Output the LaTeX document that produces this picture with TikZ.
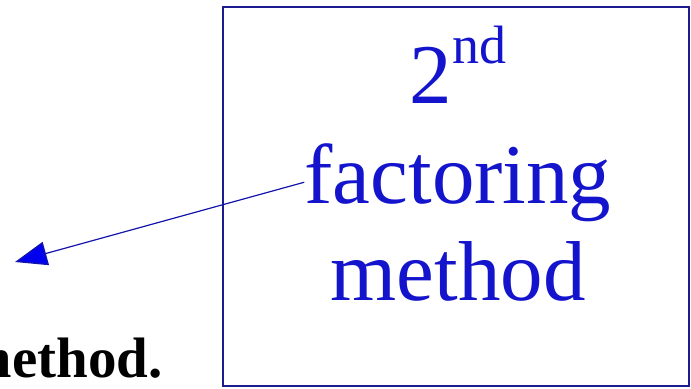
\documentclass[tikz,border=0pt]{standalone}
\usepackage{fontspec}
\setmainfont{Liberation Serif}
\usepackage{xcolor}
\usetikzlibrary{positioning,arrows.meta,calc}
\definecolor{boxcol}{HTML}{1C1C8E}
\definecolor{txtcol}{HTML}{1414CC}
\definecolor{arrcol}{HTML}{0000EE}

\begin{document}
\begin{tikzpicture}[
   x=0.5pt, y=-0.5pt,
   frame/.style={draw=boxcol,line width=1.2pt,minimum width=233pt,
                 minimum height=189.5pt,inner sep=0pt},
   big/.style={text=txtcol,inner sep=0pt,font=\fontsize{42.5}{49}\selectfont},
   note/.style={text=black,inner sep=0pt,font=\fontsize{28.5}{33}\selectfont\bfseries},
   pointer/.style={draw=boxcol!70!arrcol,line width=0.6pt,
                   -{Triangle[length=16pt,width=12pt,fill=arrcol]}},
]
\useasboundingbox (0,0) rectangle (691,388);
\clip (0,0) rectangle (691,388);

% box and its label
\node[frame] (box) at (456,196.5) {};
\node[big,anchor=base] (ord)  at (458,103)
     {2\raisebox{20pt}{\fontsize{27}{30}\selectfont nd}};
\node[big,anchor=base] (fac)  at (458,203) {factoring};
\node[big,anchor=base] (meth) at (458,300) {method};

% text running off to the left
\node[note,anchor=base east] (prev) at (163,377) {method.};

% pointer
\coordinate (tip) at (15,262);
\draw[pointer] (fac.west) -- (tip);

\end{tikzpicture}
\end{document}
